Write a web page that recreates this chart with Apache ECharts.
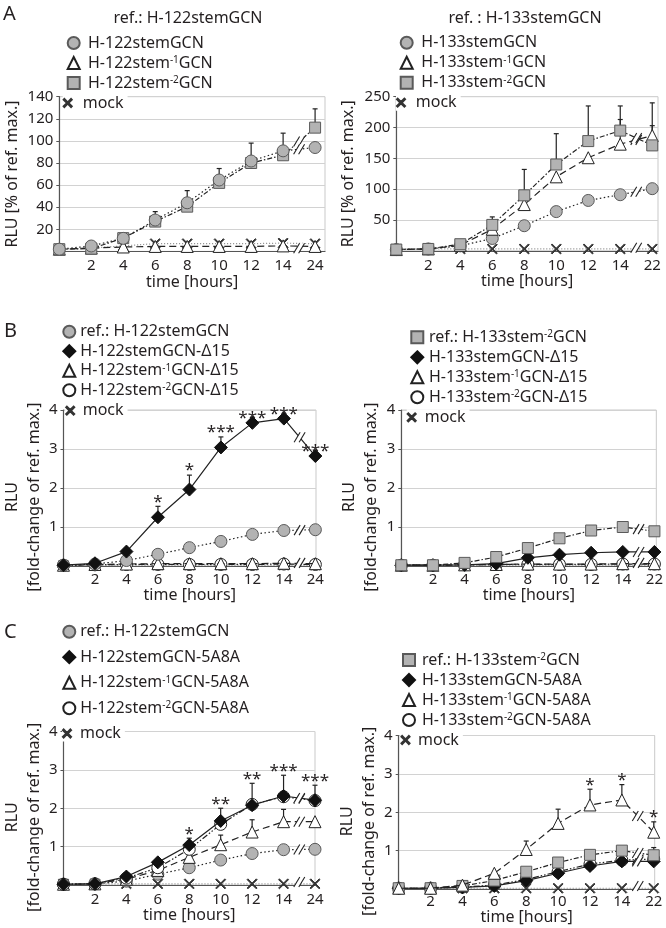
<!DOCTYPE html>
<html><head><meta charset="utf-8">
<script src="https://cdn.jsdelivr.net/npm/echarts@6/dist/echarts.min.js"></script>
<style>html,body{margin:0;padding:0;background:#fff}#c{width:666px;height:928px}</style>
</head><body><div id="c"></div>
<script>
// ---------------- DATA ----------------
const ticks24 = ['', '2', '4', '6', '8', '10', '12', '14', '24'];
const ticks22 = ['', '2', '4', '6', '8', '10', '12', '14', '22'];

// Panel A left: % of ref. max
const aL_circle    = [2, 4.9, 11.8, 28.4, 44, 64.6, 81.8, 91, 94];
const aL_circleErr = [null, null, null, 36, 55, 75, 98, 107, null];
const aL_tri       = [2, 3, 4, 4.5, 4.5, 4.5, 4.5, 5, 4.5];
const aL_square    = [2, 2.5, 12, 27, 40.5, 62, 80, 87, 112];
const aL_squareErr = [null, null, null, null, null, null, null, null, 129];
const aL_mock      = [2, 3, 5, 7, 7, 7, 7, 7.5, 7];

// Panel A right
const aR_circle    = [2, 3, 8, 20, 40.7, 63.6, 81.7, 91, 100.8];
const aR_tri       = [2, 3, 9, 35, 75, 120, 151, 173, 187];
const aR_triErr    = [null, null, null, null, null, null, null, 213, 203];
const aR_square    = [2, 3, 10.7, 42, 90, 140, 178, 195, 171];
const aR_squareErr = [null, null, null, 55, 132, 190, 235, 235, 240];
const aR_mock      = [3, 3, 3, 3, 3, 3, 3, 3, 3];

// Panel B left: fold-change
const bL_ref        = [0.02, 0.05, 0.14, 0.3, 0.47, 0.63, 0.81, 0.91, 0.93];
const bL_diamond    = [0.02, 0.07, 0.37, 1.25, 1.96, 3.04, 3.67, 3.78, 2.82];
const bL_diamondErr = [null, null, null, 1.53, 2.33, 3.31, null, null, null];
const bL_stars      = ['', '', '', '*', '*', '***', '***', '***', '***'];
const bL_tri        = [0.02, 0.04, 0.05, 0.06, 0.06, 0.06, 0.06, 0.07, 0.06];
const bL_wcircle    = [0.02, 0.03, 0.04, 0.04, 0.04, 0.04, 0.04, 0.05, 0.04];
const bL_mock       = [0.02, 0.02, 0.02, 0.02, 0.02, 0.02, 0.02, 0.02, 0.02];

// Panel B right
const bR_ref     = [0.02, 0.02, 0.08, 0.23, 0.46, 0.71, 0.91, 1.0, 0.89];
const bR_diamond = [0.02, 0.02, 0.03, 0.06, 0.21, 0.29, 0.34, 0.36, 0.36];
const bR_tri     = [0.02, 0.02, 0.03, 0.04, 0.05, 0.05, 0.05, 0.06, 0.06];
const bR_wcircle = [0.02, 0.02, 0.03, 0.04, 0.04, 0.04, 0.04, 0.05, 0.05];
const bR_mock    = [0.02, 0.02, 0.02, 0.02, 0.02, 0.02, 0.02, 0.02, 0.02];

// Panel C left
const cL_ref        = [0.02, 0.03, 0.1, 0.28, 0.45, 0.65, 0.82, 0.92, 0.93];
const cL_diamond    = [0.02, 0.03, 0.22, 0.59, 1.04, 1.67, 2.08, 2.32, 2.21];
const cL_diamondErr = [null, null, null, null, 1.22, 2.0, 2.65, 2.86, 2.6];
const cL_stars      = ['', '', '', '', '*', '**', '**', '***', '***'];
const cL_tri        = [0.02, 0.03, 0.15, 0.38, 0.72, 1.05, 1.38, 1.65, 1.65];
const cL_triErr     = [null, null, null, null, null, 1.3, 1.7, 1.97, null];
const cL_wcircle    = [0.02, 0.03, 0.18, 0.45, 0.93, 1.58, 2.1, 2.3, 2.2];
const cL_mock       = [0.03, 0.03, 0.03, 0.03, 0.03, 0.03, 0.03, 0.03, 0.03];

// Panel C right
const cR_ref       = [0.02, 0.02, 0.08, 0.22, 0.45, 0.69, 0.89, 1.0, 0.88];
const cR_refErr    = [null, null, null, null, null, null, null, null, 1.08];
const cR_diamond   = [0.02, 0.02, 0.04, 0.08, 0.22, 0.41, 0.6, 0.72, 0.72];
const cR_tri       = [0.02, 0.02, 0.1, 0.41, 1.03, 1.71, 2.19, 2.32, 1.48];
const cR_triErr    = [null, null, null, null, 1.25, 2.08, 2.6, 2.72, 1.75];
const cR_triStars  = ['', '', '', '', '', '', '*', '*', '*'];
const cR_wcircle   = [0.02, 0.02, 0.05, 0.1, 0.25, 0.45, 0.65, 0.75, 0.78];
const cR_mock      = [0.02, 0.02, 0.02, 0.02, 0.02, 0.02, 0.02, 0.02, 0.02];

// ---------------- STYLE / LAYOUT ----------------
const FONT = 'Noto Sans';
const TXT = '#231f20';
const XPATH = 'path://M0,0.8L0.8,0L5,4.2L9.2,0L10,0.8L5.8,5L10,9.2L9.2,10L5,5.8L0.8,10L0,9.2L4.2,5Z';
const STYLE = {
  gcircle: {symbol: 'circle', size: 12, fill: '#b3b3b3', border: '#5a5a5a', type: [1.5, 2.5], icon: 'circle'},
  gsquare: {symbol: 'rect', size: 11, fill: '#b3b3b3', border: '#5a5a5a', type: [5, 2, 1.5, 2], icon: 'rect'},
  tri:     {symbol: 'triangle', size: 12, fill: '#ffffff', border: '#222', type: [7, 4], icon: 'triangle'},
  wcircle: {symbol: 'circle', size: 12, fill: '#ffffff', border: '#222', type: [6, 2, 1.5, 2, 1.5, 2], icon: 'circle'},
  diamond: {symbol: 'diamond', size: 13, fill: '#111', border: '#111', type: 'solid', icon: 'diamond'},
  mock:    {symbol: XPATH, size: 10, fill: '#333', border: '#333', type: [1, 2], lineColor: '#888', icon: XPATH}
};

const NAME_FOLD = 'RLU\n[fold-change of ref. max.]';
const NAME_PCT = 'RLU [% of ref. max.]';

const panels = [
  { grid: {left: 59.3, top: 96.7, width: 265.7, height: 154.7}, xMax: 8.31, yMax: 140, yInt: 20,
    ticks: ticks24, yName: NAME_PCT, yNameGap: 31, xLabelMargin: 7, xNameGap: 20,
    legend: {cx: 72.7, tx: 87, top: 35, gap: 4}, mockLegend: {left: 62.7, top: 95, w: 20},
    series: [
      {name: 'mock', st: 'mock', data: aL_mock},
      {name: 'H-122stem^-1^GCN', st: 'tri', data: aL_tri},
      {name: 'H-122stem^-2^GCN', st: 'gsquare', data: aL_square, err: aL_squareErr},
      {name: 'H-122stemGCN', st: 'gcircle', data: aL_circle, err: aL_circleErr}
    ],
    legendOrder: ['H-122stemGCN', 'H-122stem^-1^GCN', 'H-122stem^-2^GCN'] },
  { grid: {left: 396.3, top: 96.7, width: 261.7, height: 154.1}, xMax: 8.18, yMax: 250, yInt: 50,
    ticks: ticks22, yName: NAME_PCT, yNameGap: 37, xLabelMargin: 7, xNameGap: 20,
    legend: {cx: 405.7, tx: 420.3, top: 34.7, gap: 4}, mockLegend: {left: 396, top: 94.7, w: 19.6},
    series: [
      {name: 'mock', st: 'mock', data: aR_mock},
      {name: 'H-133stemGCN', st: 'gcircle', data: aR_circle},
      {name: 'H-133stem^-1^GCN', st: 'tri', data: aR_tri, err: aR_triErr},
      {name: 'H-133stem^-2^GCN', st: 'gsquare', data: aR_square, err: aR_squareErr}
    ],
    legendOrder: ['H-133stemGCN', 'H-133stem^-1^GCN', 'H-133stem^-2^GCN'] },
  { grid: {left: 59.3, top: 410, width: 256.7, height: 156}, xMax: 8.02, yMax: 4, yInt: 1,
    ticks: ticks24, yName: NAME_FOLD, yNameGap: 16, xLabelMargin: 6, xNameGap: 18,
    legend: {cx: 68.3, tx: 79.3, top: 323.7, gap: 3.5}, mockLegend: {left: 65.2, top: 402.7, w: 15},
    series: [
      {name: 'mock', st: 'mock', data: bL_mock},
      {name: 'H-122stem^-2^GCN-Δ15', st: 'wcircle', data: bL_wcircle},
      {name: 'H-122stem^-1^GCN-Δ15', st: 'tri', data: bL_tri},
      {name: 'ref.: H-122stemGCN', st: 'gcircle', data: bL_ref},
      {name: 'H-122stemGCN-Δ15', st: 'diamond', data: bL_diamond, err: bL_diamondErr, stars: bL_stars}
    ],
    legendOrder: ['ref.: H-122stemGCN', 'H-122stemGCN-Δ15', 'H-122stem^-1^GCN-Δ15', 'H-122stem^-2^GCN-Δ15'] },
  { grid: {left: 401.3, top: 410, width: 256.7, height: 156}, xMax: 8.06, yMax: 4, yInt: 1,
    ticks: ticks22, yName: NAME_FOLD, yNameGap: 17, xLabelMargin: 6, xNameGap: 18,
    legend: {cx: 416.3, tx: 428, top: 329.3, gap: 4}, mockLegend: {left: 406.7, top: 409.3, w: 16},
    series: [
      {name: 'mock', st: 'mock', data: bR_mock},
      {name: 'H-133stem^-2^GCN-Δ15', st: 'wcircle', data: bR_wcircle},
      {name: 'H-133stem^-1^GCN-Δ15', st: 'tri', data: bR_tri},
      {name: 'H-133stemGCN-Δ15', st: 'diamond', data: bR_diamond},
      {name: 'ref.: H-133stem^-2^GCN', st: 'gsquare', data: bR_ref}
    ],
    legendOrder: ['ref.: H-133stem^-2^GCN', 'H-133stemGCN-Δ15', 'H-133stem^-1^GCN-Δ15', 'H-133stem^-2^GCN-Δ15'] },
  { grid: {left: 59.3, top: 731.5, width: 255.7, height: 153.5}, xMax: 8.0, yMax: 4, yInt: 1,
    ticks: ticks24, yName: NAME_FOLD, yNameGap: 18, xLabelMargin: 7, xNameGap: 21,
    legend: {cx: 68.3, tx: 79.3, top: 623.7, gap: 9.5}, mockLegend: {left: 62, top: 725.5, w: 16},
    series: [
      {name: 'mock', st: 'mock', data: cL_mock},
      {name: 'ref.: H-122stemGCN', st: 'gcircle', data: cL_ref},
      {name: 'H-122stem^-1^GCN-5A8A', st: 'tri', data: cL_tri, err: cL_triErr},
      {name: 'H-122stem^-2^GCN-5A8A', st: 'wcircle', data: cL_wcircle},
      {name: 'H-122stemGCN-5A8A', st: 'diamond', data: cL_diamond, err: cL_diamondErr, stars: cL_stars}
    ],
    legendOrder: ['ref.: H-122stemGCN', 'H-122stemGCN-5A8A', 'H-122stem^-1^GCN-5A8A', 'H-122stem^-2^GCN-5A8A'] },
  { grid: {left: 398.7, top: 735.5, width: 256, height: 153.5}, xMax: 8.03, yMax: 4, yInt: 1,
    ticks: ticks22, yName: NAME_FOLD, yNameGap: 15, xLabelMargin: 5, xNameGap: 13,
    legend: {cx: 408, tx: 421, top: 652, gap: 4}, mockLegend: {left: 400.5, top: 732, w: 15},
    series: [
      {name: 'mock', st: 'mock', data: cR_mock},
      {name: 'H-133stem^-2^GCN-5A8A', st: 'wcircle', data: cR_wcircle},
      {name: 'H-133stemGCN-5A8A', st: 'diamond', data: cR_diamond},
      {name: 'ref.: H-133stem^-2^GCN', st: 'gsquare', data: cR_ref, err: cR_refErr},
      {name: 'H-133stem^-1^GCN-5A8A', st: 'tri', data: cR_tri, err: cR_triErr, stars: cR_triStars}
    ],
    legendOrder: ['ref.: H-133stem^-2^GCN', 'H-133stemGCN-5A8A', 'H-133stem^-1^GCN-5A8A', 'H-133stem^-2^GCN-5A8A'] }
];

// ---------------- BUILD ----------------
const grids = [], xAxes = [], yAxes = [], series = [], legends = [];
const fmtName = n => n.replace(/\^(.+?)\^/g, '{s|$1}');
const mkLegendText = pl => ({
  fontSize: 16, lineHeight: 16, color: TXT, fontFamily: FONT, padding: [0, 0, 0, pl],
  rich: { s: {fontSize: 10, lineHeight: 10, verticalAlign: 'top', color: TXT, fontFamily: FONT} }
});

function errRender(params, api) {
  const x = api.value(0), v = api.value(1), t = api.value(2);
  const p0 = api.coord([x, v]), p1 = api.coord([x, t]);
  const st = {stroke: '#222', lineWidth: 1.2};
  return {type: 'group', children: [
    {type: 'line', shape: {x1: p0[0], y1: p0[1], x2: p1[0], y2: p1[1]}, style: st},
    {type: 'line', shape: {x1: p1[0] - 2.5, y1: p1[1], x2: p1[0] + 2.5, y2: p1[1]}, style: st}
  ]};
}
function breakRender(params, api) {
  const p = api.coord([api.value(0), api.value(1)]);
  const cx = p[0], cy = p[1];
  const st = {stroke: '#222', lineWidth: 1.1};
  return {type: 'group', children: [
    {type: 'polygon', shape: {points: [[cx - 5.5, cy + 5], [cx + 0.5, cy - 5], [cx + 5.5, cy - 5], [cx - 0.5, cy + 5]]}, style: {fill: '#fff'}},
    {type: 'line', shape: {x1: cx - 5.5, y1: cy + 5, x2: cx + 0.5, y2: cy - 5}, style: st},
    {type: 'line', shape: {x1: cx - 0.5, y1: cy + 5, x2: cx + 5.5, y2: cy - 5}, style: st}
  ]};
}

panels.forEach((p, gi) => {
  grids.push(Object.assign({show: true, borderColor: '#c9c9c9', borderWidth: 1, containLabel: false}, p.grid));
  xAxes.push({
    type: 'value', gridIndex: gi, min: 0, max: p.xMax, interval: 1,
    axisLine: {show: true, onZero: true, lineStyle: {color: '#555', width: 1.2}},
    axisTick: {show: false}, splitLine: {show: false},
    axisLabel: {margin: p.xLabelMargin, fontSize: 15, color: TXT, fontFamily: FONT,
      formatter: v => Number.isInteger(v) ? (p.ticks[v] || '') : ''},
    name: 'time [hours]', nameLocation: 'middle', nameGap: p.xNameGap,
    nameTextStyle: {fontSize: 16, color: TXT, fontFamily: FONT}
  });
  yAxes.push({
    type: 'value', gridIndex: gi, min: 0, max: p.yMax, interval: p.yInt,
    axisLine: {show: true, lineStyle: {color: '#555', width: 1.2}},
    axisTick: {show: true, length: 3, lineStyle: {color: '#555'}},
    splitLine: {show: true, lineStyle: {color: '#d2d2d2', width: 1}},
    axisLabel: {margin: 6, fontSize: 15, color: TXT, fontFamily: FONT, formatter: v => v === 0 ? '' : String(v)},
    name: p.yName, nameLocation: 'middle', nameGap: p.yNameGap, nameRotate: 90,
    nameTextStyle: {fontSize: 16, lineHeight: 22, color: TXT, fontFamily: FONT,
      padding: p.yName === NAME_FOLD ? [0, 18, 0, 0] : 0}
  });

  const errData = [], starList = [], breakData = [];
  p.series.forEach((s, k) => {
    const st = STYLE[s.st];
    series.push({
      type: 'line', name: s.name, xAxisIndex: gi, yAxisIndex: gi,
      data: s.data.map((v, i) => [i, v]),
      symbol: st.symbol, symbolSize: st.size, showAllSymbol: true,
      itemStyle: {color: st.fill, borderColor: st.border, borderWidth: 1},
      lineStyle: {color: st.lineColor || '#222', width: 1.2, type: st.type},
      emphasis: {disabled: true}, z: 2 + k * 0.01, silent: true
    });
    if (s.err) s.err.forEach((e, i) => { if (e != null) errData.push([i, s.data[i], e]); });
    if (s.stars) s.stars.forEach((t, i) => {
      if (t) starList.push({x: i, y: Math.max(s.data[i], s.err && s.err[i] != null ? s.err[i] : -Infinity), t});
    });
    if (s.st !== 'mock') {
      const mid = (s.data[7] + s.data[8]) / 2;
      if (mid > 0.05 * p.yMax) breakData.push([7.5, mid]);
    }
  });
  breakData.push([7.5, 0.02 * p.yMax]);

  series.push({type: 'custom', xAxisIndex: gi, yAxisIndex: gi, data: errData, renderItem: errRender, z: 1.5, silent: true, clip: false});
  series.push({type: 'custom', xAxisIndex: gi, yAxisIndex: gi, data: breakData, renderItem: breakRender, z: 4, silent: true, clip: false});
  series.push({type: 'custom', xAxisIndex: gi, yAxisIndex: gi, data: starList.map(s => [s.x, s.y]), z: 5, silent: true, clip: false,
    renderItem: (params, api) => {
      const pt = api.coord([api.value(0), api.value(1)]);
      return {type: 'text', x: pt[0], y: pt[1] + 4,
        style: {text: starList[params.dataIndex].t, align: 'center', verticalAlign: 'bottom',
          fontSize: 17, fontFamily: FONT, fill: TXT}};
    }});

  const ICON = 12;
  legends.push({
    orient: 'vertical', left: p.legend.cx - ICON / 2, top: p.legend.top, padding: 0,
    itemWidth: ICON, itemHeight: ICON, itemGap: p.legend.gap, selectedMode: false,
    data: p.legendOrder.map(n => ({name: n, icon: STYLE[p.series.find(s => s.name === n).st].icon})),
    formatter: fmtName, textStyle: mkLegendText(Math.max(0, p.legend.tx - (p.legend.cx + ICON / 2 + 5)))
  });
  legends.push({
    orient: 'vertical', left: p.mockLegend.left, top: p.mockLegend.top, padding: [0, 4, 0, 0],
    backgroundColor: '#fff', itemWidth: p.mockLegend.w, itemHeight: 8, itemGap: 0, selectedMode: false,
    data: [{name: 'mock', icon: XPATH}], textStyle: mkLegendText(0)
  });
});

const txt = (text, x, y, size, align) => ({type: 'text', x, y,
  style: {text, fontSize: size, fontFamily: FONT, fill: TXT, align: align || 'center', verticalAlign: 'middle'}});

const chart = echarts.init(document.getElementById('c'), null, {renderer: 'canvas'});
chart.setOption({
  animation: false,
  backgroundColor: '#fff',
  grid: grids, xAxis: xAxes, yAxis: yAxes, series, legend: legends,
  graphic: [
    txt('A', 3, 14, 20, 'left'),
    txt('B', 4, 331, 20, 'left'),
    txt('C', 4, 632, 20, 'left'),
    txt('ref.: H-122stemGCN', 188, 18, 16),
    txt('ref. : H-133stemGCN', 525, 18, 16)
  ]
});
</script></body></html>
